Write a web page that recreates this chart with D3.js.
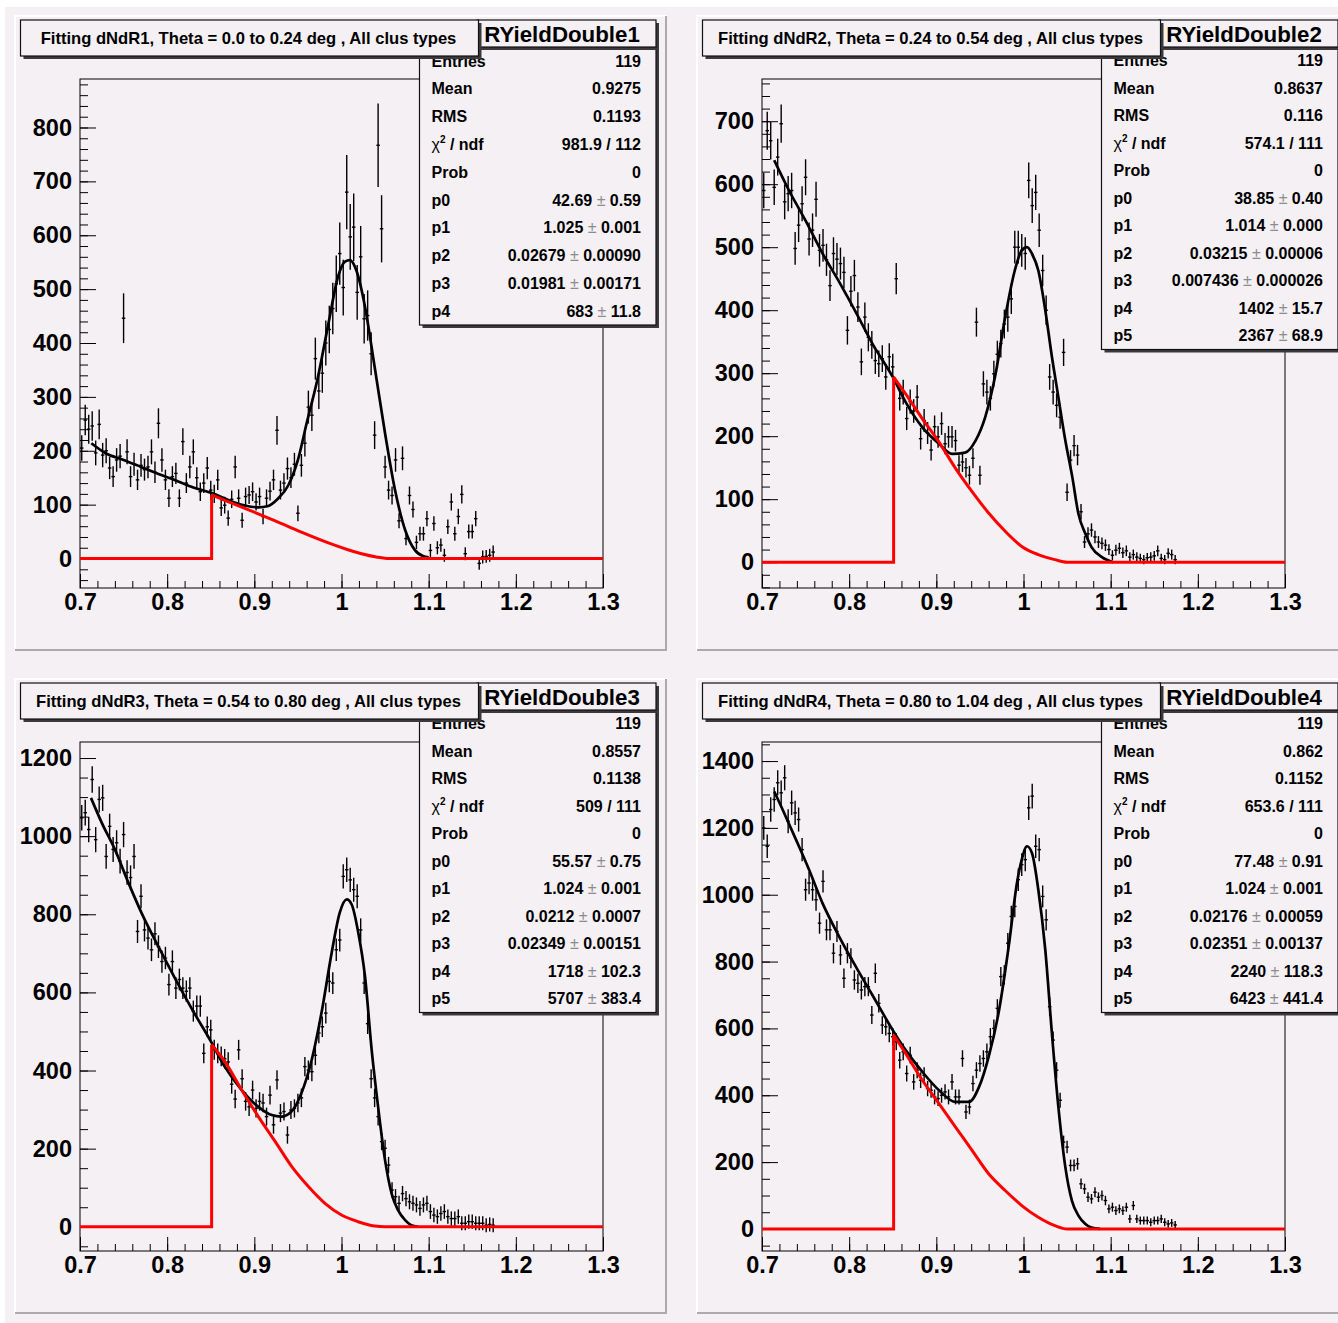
<!DOCTYPE html>
<html>
<head>
<meta charset="utf-8">
<script src="https://cdn.jsdelivr.net/npm/d3@7"></script>
<style>
  body { margin: 0; background: #fff; }
  svg { display: block; font-family: "Liberation Sans", Arial, Helvetica, sans-serif; }
</style>
</head>
<body>
<svg id="canvas"></svg>
<script>
// histogram binning (119 bins of 0.004 starting at 0.7)
const histLow = 0.7;
const binWidth = 0.004;

const xTicks = [0.7, 0.8, 0.9, 1.0, 1.1, 1.2, 1.3];
const yTicks1 = [0, 100, 200, 300, 400, 500, 600, 700, 800];
const yTicks2 = [0, 100, 200, 300, 400, 500, 600, 700];
const yTicks3 = [0, 200, 400, 600, 800, 1000, 1200];
const yTicks4 = [0, 200, 400, 600, 800, 1000, 1200, 1400];
const yRanges = [[-54.7, 890], [-41, 767], [-62, 1241], [-66, 1457]];

const titles = [
  "Fitting dNdR1, Theta = 0.0 to 0.24 deg , All clus types",
  "Fitting dNdR2, Theta = 0.24 to 0.54 deg , All clus types",
  "Fitting dNdR3, Theta = 0.54 to 0.80 deg , All clus types",
  "Fitting dNdR4, Theta = 0.80 to 1.04 deg , All clus types"
];
const histNames = ["RYieldDouble1", "RYieldDouble2", "RYieldDouble3", "RYieldDouble4"];

const statLabels = ["Entries", "Mean", "RMS", "χ2 / ndf", "Prob", "p0", "p1", "p2", "p3", "p4", "p5"];
const statValues1 = ["119", "0.9275", "0.1193", "981.9 / 112", "0", "42.69 ± 0.59", "1.025 ± 0.001", "0.02679 ± 0.00090", "0.01981 ± 0.00171", "683 ± 11.8"];
const statValues2 = ["119", "0.8637", "0.116", "574.1 / 111", "0", "38.85 ± 0.40", "1.014 ± 0.000", "0.03215 ± 0.00006", "0.007436 ± 0.000026", "1402 ± 15.7", "2367 ± 68.9"];
const statValues3 = ["119", "0.8557", "0.1138", "509 / 111", "0", "55.57 ± 0.75", "1.024 ± 0.001", "0.0212 ± 0.0007", "0.02349 ± 0.00151", "1718 ± 102.3", "5707 ± 383.4"];
const statValues4 = ["119", "0.862", "0.1152", "653.6 / 111", "0", "77.48 ± 0.91", "1.024 ± 0.001", "0.02176 ± 0.00059", "0.02351 ± 0.00137", "2240 ± 118.3", "6423 ± 441.4"];

// bin contents
const yields1 = [
  205,257,240,246,196,249,192,200,168,152,
  183,190,446,198,152,175,146,173,165,170,
  198,160,251,183,146,112,152,158,112,217,
  140,170,198,150,124,140,168,127,120,146,
  94,99,75,110,170,112,71,115,118,124,
  105,115,78,112,125,146,238,127,140,167,
  150,175,84,173,214,281,266,371,311,344,
  400,425,464,510,566,503,680,597,615,494,
  560,445,451,380,229,767,612,170,127,117,
  183,70,186,37,117,91,30,46,46,74,
  15,65,20,25,6,59,105,46,78,119,
  9,50,50,74,-9,3,4,6,12
];
const yields2 = [
  590,685,669,595,643,696,572,585,590,498,
  535,569,611,513,527,576,495,503,480,439,
  490,481,474,460,368,430,455,405,318,389,
  357,345,320,315,323,294,326,310,450,260,
  270,228,255,240,262,196,225,205,178,215,
  199,220,188,199,199,193,154,159,150,138,
  165,381,138,283,270,260,299,330,347,378,
  389,418,500,500,495,490,606,566,587,527,
  463,400,294,270,249,230,333,111,162,185,
  170,80,32,45,51,40,32,30,27,20,
  11,19,22,15,18,8,12,8,6,4,
  7,8,10,18,6,4,14,12,4
];
const yields3 = [
  1047,1060,1017,1145,991,1094,1098,948,1025,966,
  983,936,1004,907,894,948,756,846,760,739,
  709,750,717,679,688,620,679,611,633,611,
  603,611,552,565,565,444,512,504,453,444,
  436,430,422,365,327,453,379,321,307,350,
  303,321,317,282,337,261,376,291,295,235,
  299,303,317,330,410,401,397,439,496,512,
  547,628,624,709,734,897,914,888,863,846,
  760,624,520,379,330,282,218,201,158,94,
  77,60,85,72,64,60,56,47,56,60,
  39,30,26,34,39,26,21,21,26,9,
  9,13,13,9,9,9,4,6,4
];
const yields4 = [
  1200,1145,1255,1285,1335,1305,1350,1220,1275,1245,
  1225,1135,1015,1035,1015,985,915,1040,895,895,
  825,890,820,750,825,810,745,735,715,725,
  725,640,765,675,610,605,585,575,560,505,
  530,465,520,440,475,445,460,420,415,395,
  390,400,410,395,440,395,395,510,350,365,
  435,475,495,510,530,575,600,660,755,760,
  855,935,965,1045,1090,1105,1260,1295,1145,1135,
  995,925,665,565,475,385,260,245,190,190,
  195,135,120,95,90,110,95,100,85,60,
  65,55,60,55,65,30,70,30,25,25,
  25,20,25,25,30,20,15,18,12
];
// error terms per panel: err = sqrt(a^2 + b^2*|n| + (c*n)^2)
const errTerms = [[12, 0, 0.10], [7, 1.12, 0], [18, 0.85, 0], [11, 0.98, 0]];

// total fit (black)
const fitX1 = [0.713,0.73,0.75,0.77,0.79,0.81,0.83,0.852,0.874,0.89,0.905,0.915,0.927,0.939,0.95,0.96,0.973,0.985,0.996,1.004,1.0097,1.017,1.027,1.038,1.05,1.0614,1.073,1.084,1.094,1.10];
const fitY1 = [214,195,183,170,157,145,132,121,106,98,95,97,111,136,183,251,337,436,523,551,554,535,467,356,232,127,53,16,4,2];
const fitX2 = [0.714,0.731,0.75,0.7695,0.7885,0.8076,0.8266,0.85,0.8648,0.884,0.903,0.918,0.933,0.945,0.956,0.968,0.979,0.99,0.998,1.004,1.0096,1.017,1.025,1.0326,1.04,1.048,1.056,1.063,1.071,1.078,1.09,1.103];
const fitY2 = [638,590,542,490,445,397,347,294,254,214,188,172,174,193,230,299,389,463,495,500,490,463,400,326,262,193,135,77,45,24,8,0];
const fitX3 = [0.7126,0.725,0.74,0.7555,0.7707,0.79,0.809,0.828,0.8503,0.866,0.8855,0.9046,0.92,0.931,0.9426,0.954,0.9658,0.977,0.9887,0.998,1.006,1.0117,1.019,1.027,1.0346,1.042,1.05,1.0575,1.065,1.073,1.08,1.088];
const fitY3 = [1098,1034,966,881,803,717,636,559,474,410,350,307,286,282,295,342,427,547,701,804,838,825,756,640,453,307,170,85,42,17,4,0];
const fitX4 = [0.7141,0.7236,0.739,0.754,0.7694,0.7885,0.8076,0.8266,0.85,0.8648,0.884,0.903,0.922,0.9375,0.949,0.96,0.972,0.983,0.9925,0.998,1.004,1.0097,1.017,1.025,1.0326,1.04,1.048,1.0555,1.063,1.071,1.078,1.088];
const fitY4 = [1309,1255,1165,1075,975,875,785,700,595,535,470,415,380,380,425,515,655,845,1035,1105,1145,1125,1015,835,585,365,185,85,40,15,4,0];

// background component (red); first three points are the flat zero part and the edge
const bkgX1 = [0.7,0.851,0.851,0.874,0.897,0.924,0.954,0.985,1.012,1.023,1.04,1.055,1.3];
const bkgY1 = [0,0,118,103,88,70,49,29,14,9,3,0,0];
const bkgX2 = [0.7,0.851,0.851,0.8648,0.8838,0.9029,0.922,0.941,0.96,0.979,0.998,1.017,1.036,1.05,1.3];
const bkgY2 = [0,0,294,267,228,191,149,112,78,49,25,12,4,0,0];
const bkgX3 = [0.7,0.851,0.851,0.8664,0.8855,0.9046,0.924,0.943,0.962,0.981,1.0,1.019,1.038,1.05,1.3];
const bkgY3 = [0,0,466,422,350,282,218,154,103,60,30,13,2,0,0];
const bkgX4 = [0.7,0.851,0.851,0.8648,0.884,0.903,0.922,0.941,0.96,0.979,0.998,1.017,1.036,1.05,1.3];
const bkgY4 = [0,0,580,525,445,375,305,235,165,115,70,35,10,0,0];

const panels = [
  { yields: yields1, fitX: fitX1, fitY: fitY1, bkgX: bkgX1, bkgY: bkgY1, yTicks: yTicks1, minor: 20, stats: statValues1 },
  { yields: yields2, fitX: fitX2, fitY: fitY2, bkgX: bkgX2, bkgY: bkgY2, yTicks: yTicks2, minor: 20, stats: statValues2 },
  { yields: yields3, fitX: fitX3, fitY: fitY3, bkgX: bkgX3, bkgY: bkgY3, yTicks: yTicks3, minor: 50, stats: statValues3 },
  { yields: yields4, fitX: fitX4, fitY: fitY4, bkgX: bkgX4, bkgY: bkgY4, yTicks: yTicks4, minor: 50, stats: statValues4 }
];

// ---- layout ----
const width = 1338, height = 1323;
const bg = "#f4f0f4";
const padW = 653, padH = 636;
const padPos = [[14, 15], [696, 15], [14, 678], [696, 678]];
const frame = { l: 66, r: 589, t: 64, b: 573 };

const svg = d3.select("#canvas").attr("width", width).attr("height", height);
svg.append("rect").attr("width", width).attr("height", height).attr("fill", "#fff");
svg.append("rect").attr("x", 5).attr("y", 7).attr("width", width - 5).attr("height", height - 7).attr("fill", bg);

function styleAxis(g, size) {
  g.select(".domain").remove();
  g.selectAll("line").attr("stroke", "#000").attr("stroke-width", 1);
  g.selectAll("text")
    .attr("fill", "#000")
    .attr("font-size", size)
    .attr("font-weight", "bold")
    .attr("font-family", "'Liberation Sans', Arial, sans-serif");
}

function drawBox(g, x, y, w, h) {
  g.append("rect").attr("x", x + 3).attr("y", y + 3).attr("width", w).attr("height", h).attr("fill", "#3a3a3a");
  g.append("rect").attr("x", x).attr("y", y).attr("width", w).attr("height", h)
    .attr("fill", bg).attr("stroke", "#111").attr("stroke-width", 1.2);
}

panels.forEach((p, k) => {
  const [ox, oy] = padPos[k];
  const g = svg.append("g").attr("transform", `translate(${ox},${oy})`);

  // pad with raised border
  g.append("rect").attr("width", padW).attr("height", padH).attr("fill", bg);
  g.append("path").attr("d", `M1,${padH} V1 H${padW}`).attr("fill", "none").attr("stroke", "#fff").attr("stroke-width", 2);
  g.append("path").attr("d", `M1,${padH - 1} H${padW - 1} V1`).attr("fill", "none").attr("stroke", "#ababab").attr("stroke-width", 2);

  const x = d3.scaleLinear().domain([0.7, 1.3]).range([frame.l, frame.r]);
  const y = d3.scaleLinear().domain(yRanges[k]).range([frame.b, frame.t]);

  // axes (ticks inside the frame, ROOT style)
  g.append("g").attr("transform", `translate(0,${frame.b})`)
    .call(d3.axisBottom(x).tickValues(d3.range(0.72, 1.29, 0.02)).tickSize(-7).tickFormat(""))
    .call(a => styleAxis(a, 23));
  g.append("g").attr("transform", `translate(0,${frame.b})`)
    .call(d3.axisBottom(x).tickValues(xTicks).tickSize(-14).tickPadding(5).tickFormat(d => String(+d.toFixed(1))))
    .call(a => styleAxis(a, 23.5));

  const [y0, y1] = yRanges[k];
  const minorTicks = d3.range(Math.ceil(y0 / p.minor) * p.minor, y1, p.minor);
  g.append("g").attr("transform", `translate(${frame.l},0)`)
    .call(d3.axisLeft(y).tickValues(minorTicks).tickSize(-8).tickFormat(""))
    .call(a => styleAxis(a, 23));
  g.append("g").attr("transform", `translate(${frame.l},0)`)
    .call(d3.axisLeft(y).tickValues(p.yTicks).tickSize(-16).tickPadding(8).tickFormat(d3.format("d")))
    .call(a => styleAxis(a, 23.5));

  g.append("rect").attr("x", frame.l).attr("y", frame.t)
    .attr("width", frame.r - frame.l).attr("height", frame.b - frame.t)
    .attr("fill", "none").attr("stroke", "#000").attr("stroke-width", 1);

  const clipId = "clip" + k;
  g.append("clipPath").attr("id", clipId).append("rect")
    .attr("x", frame.l).attr("y", frame.t).attr("width", frame.r - frame.l).attr("height", frame.b - frame.t);
  const plot = g.append("g").attr("clip-path", `url(#${clipId})`);

  // data points with error bars
  const [ea, eb, ec] = errTerms[k];
  const bins = p.yields.map((v, i) => ({
    c: histLow + binWidth * (i + 0.5),
    v: v,
    e: Math.sqrt(ea * ea + eb * eb * Math.abs(v) + ec * ec * v * v)
  }));
  const pts = plot.selectAll("g.bin").data(bins).join("g").attr("class", "bin");
  pts.append("line")
    .attr("x1", d => x(d.c)).attr("x2", d => x(d.c))
    .attr("y1", d => y(d.v - d.e)).attr("y2", d => y(d.v + d.e))
    .attr("stroke", "#000").attr("stroke-width", 1.4);
  pts.append("line")
    .attr("x1", d => x(d.c - binWidth / 2)).attr("x2", d => x(d.c + binWidth / 2))
    .attr("y1", d => y(d.v)).attr("y2", d => y(d.v))
    .attr("stroke", "#000").attr("stroke-width", 1.4);

  // fit curve
  const smooth = d3.line().x(d => x(d[0])).y(d => y(d[1])).curve(d3.curveMonotoneX);
  plot.append("path").datum(d3.zip(p.fitX, p.fitY)).attr("d", smooth)
    .attr("fill", "none").attr("stroke", "#000").attr("stroke-width", 2.7).attr("stroke-linejoin", "round");

  // background component: flat part + edge, then the falling shape
  const bkg = d3.zip(p.bkgX, p.bkgY);
  const straight = d3.line().x(d => x(d[0])).y(d => y(d[1]));
  plot.append("path").datum(bkg.slice(0, 3)).attr("d", straight)
    .attr("fill", "none").attr("stroke", "#ff0000").attr("stroke-width", 3);
  plot.append("path").datum(bkg.slice(2)).attr("d", smooth)
    .attr("fill", "none").attr("stroke", "#ff0000").attr("stroke-width", 3);

  // stats box
  const nRows = p.stats.length;
  const rowH = nRows === 10 ? 27.8 : 27.5;
  drawBox(g, 405.5, 32, 236.5, nRows * rowH);
  const st = g.append("g").attr("font-size", 16).attr("font-weight", "bold").attr("fill", "#000");
  p.stats.forEach((val, r) => {
    const cy = 32 + rowH * (r + 0.5) + 5.6;
    const lab = statLabels[r];
    const lt = st.append("text").attr("x", 417.5).attr("y", cy);
    if (lab.startsWith("χ")) {
      lt.append("tspan").attr("font-weight", "normal").text("χ");
      lt.append("tspan").attr("font-size", 10).attr("dy", -7).text("2");
      lt.append("tspan").attr("dy", 7).text(" / ndf");
    } else {
      lt.text(lab);
    }
    const vt = st.append("text").attr("x", 627).attr("y", cy).attr("text-anchor", "end");
    if (val.includes("±")) {
      const [a, b] = val.split(" ± ");
      vt.append("tspan").text(a + " ");
      vt.append("tspan").attr("font-weight", "normal").attr("fill", "#8c8c8c").text("±");
      vt.append("tspan").text(" " + b);
    } else {
      vt.text(val);
    }
  });

  // histogram name box
  drawBox(g, 463, 5, 179, 27);
  g.append("text").attr("x", 548).attr("y", 26.8).attr("text-anchor", "middle")
    .attr("font-size", 22.3).attr("font-weight", "bold").attr("fill", "#000")
    .text(histNames[k]);

  // title box (drawn last, it overlaps the stats box)
  drawBox(g, 6.5, 5, 458, 36);
  g.append("text").attr("x", 234.5).attr("y", 28.6).attr("text-anchor", "middle")
    .attr("font-size", 16.6).attr("font-weight", "bold").attr("fill", "#000")
    .text(titles[k]);
});
</script>
</body>
</html>
